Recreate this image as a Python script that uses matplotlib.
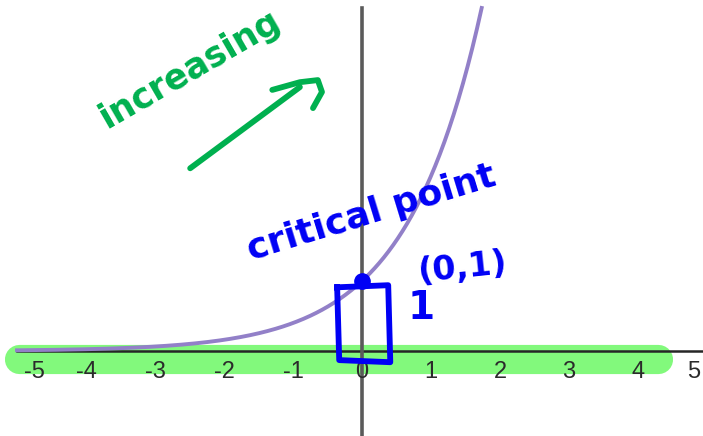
import numpy as np
import matplotlib
matplotlib.use("Agg")
import matplotlib.pyplot as plt

# graph of an exponential growth curve, y = b^x
growth_base = 2.5
x_min, x_max = -5.0, 5.0
y_top = 4.9

tick_values = [-5, -4, -3, -2, -1, 0, 1, 2, 3, 4, 5]
tick_labels = ["-5", "-4", "-3", "-2", "-1", "0", "1", "2", "3", "4", "5"]

critical_x, critical_y = 0, 1

# hand-drawn notes (data coordinates)
note_increasing = (-2.49, 4.02)
arrow_shaft = ([-2.49, -0.90], [2.61, 3.77])
arrow_head = ([-1.30, -0.90, -0.64, -0.58, -0.71], [3.73, 3.84, 3.87, 3.70, 3.47])
box_x = [-0.36, 0.38, 0.41, -0.33, -0.36]
box_y = [0.91, 0.94, -0.16, -0.13, 0.91]

GREEN = "#00b04f"
BLUE = "#0000f5"
PURPLE = "#9280c8"
HIGHLIGHT = "#82f97c"

fig = plt.figure(figsize=(7.03, 4.36), dpi=100)
ax = fig.add_axes([0, 0, 1, 1])
ax.set_xlim(-5.246, 4.942)
ax.set_ylim(-1.214, 5.014)
ax.axis("off")

# highlighter stroke along the x axis
ax.plot([-4.97, 4.29], [-0.11, -0.11], color=HIGHLIGHT, lw=21,
        solid_capstyle="round", zorder=1)

# axes lines
ax.plot([x_min, 4.942], [0, 0], color="#262626", lw=1.8, zorder=3)
ax.plot([0, 0], [-1.214, y_top], color="#5a5a5a", lw=2.6, zorder=3)

# the curve, cut off at the top of the graph
x_end = np.log(y_top) / np.log(growth_base)
xs = np.linspace(x_min, x_end, 400)
ax.plot(xs, growth_base ** xs, color=PURPLE, lw=2.8, zorder=4)

# tick labels, the outer ones kept inside the frame
label_font = ["Liberation Sans Narrow", "Liberation Sans", "DejaVu Sans"]
for v, lab in zip(tick_values, tick_labels):
    ha = "center"
    x = v
    if v == tick_values[0]:
        ha, x = "left", -4.9
    elif v == tick_values[-1]:
        ha, x = "right", 4.9
    ax.text(x, -0.30, lab, ha=ha, va="center", fontsize=17,
            color="#2b2b2b", family=label_font, zorder=5)

# green notes
ax.text(*note_increasing, "increasing", color=GREEN, fontsize=25,
        rotation=30, ha="center", va="center", fontweight="bold", zorder=6)
ax.plot(*arrow_shaft, color=GREEN, lw=4.2, solid_capstyle="round", zorder=6)
ax.plot(*arrow_head, color=GREEN, lw=4.2, solid_capstyle="round",
        solid_joinstyle="round", zorder=6)

# blue notes around the critical point
ax.plot(box_x, box_y, color=BLUE, lw=4.2, solid_joinstyle="round", zorder=6)
ax.plot(critical_x, critical_y, "o", color=BLUE, ms=11, zorder=7)
ax.text(0.14, 1.97, "critical point", color=BLUE, fontsize=26, rotation=17,
        ha="center", va="center", fontweight="bold", zorder=6)
ax.text(1.45, 1.19, "(0,1)", color=BLUE, fontsize=24, rotation=6,
        ha="center", va="center", fontweight="bold", zorder=6)
ax.text(0.86, 0.61, "1", color=BLUE, fontsize=28,
        ha="center", va="center", fontweight="bold", zorder=6)

fig.savefig("out.png", dpi=100)
